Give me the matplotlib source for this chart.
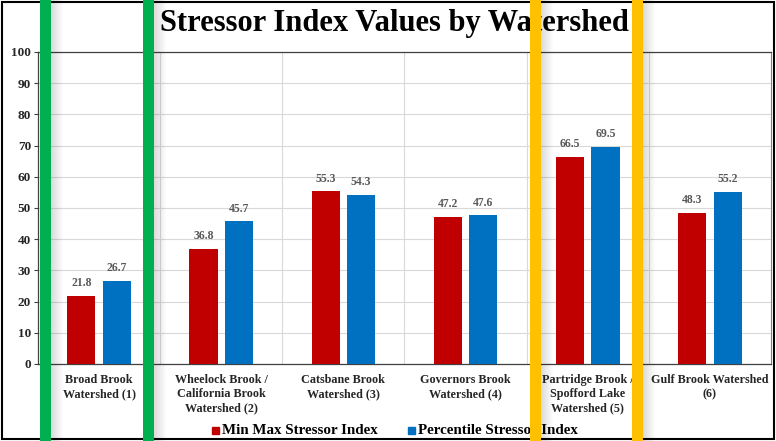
import matplotlib
matplotlib.use("Agg")
import matplotlib.pyplot as plt
from matplotlib.patches import Rectangle
import numpy as np

watersheds = [
    "Broad Brook\nWatershed (1)",
    "Wheelock Brook /\nCalifornia Brook\nWatershed (2)",
    "Catsbane Brook\nWatershed (3)",
    "Governors Brook\nWatershed (4)",
    "Partridge Brook /\nSpofford Lake\nWatershed (5)",
    "Gulf Brook Watershed\n(6)",
]
min_max = [21.8, 36.8, 55.3, 47.2, 66.5, 48.3]
percentile = [26.7, 45.7, 54.3, 47.6, 69.5, 55.2]
series_names = ["Min Max Stressor Index", "Percentile Stressor Index"]

RED = "#C00000"
BLUE = "#0070C0"
GREEN = "#00B050"
YELLOW = "#FFC000"
SERIF = ["Liberation Serif", "DejaVu Serif"]

W, H = 776, 441
fig = plt.figure(figsize=(W / 100, H / 100), dpi=100)


def fx(px):
    return px / W


def fy(py):
    return 1 - py / H


ax = fig.add_axes([fx(38), fy(364), fx(771 - 38), (364 - 52) / H])

x = np.arange(len(watersheds))
bw = 0.23
gap = 0.06
off = (bw + gap) / 2
ax.bar(x - off, min_max, bw, color=RED, zorder=3, label=series_names[0])
ax.bar(x + off, percentile, bw, color=BLUE, zorder=3, label=series_names[1])

for xs, vals in [(x - off, min_max), (x + off, percentile)]:
    for xi, v in zip(xs, vals):
        ax.text(xi, v + 2.2, f"{v:.1f}", ha="center", va="bottom",
                fontsize=8.5, fontweight="bold", color="#595959", family=SERIF)

ax.set_xlim(-0.5, len(watersheds) - 0.5)
ax.set_ylim(0, 100)
ax.set_yticks(range(0, 101, 10))
ax.set_yticklabels([str(v) for v in range(0, 101, 10)], fontsize=9.5,
                   fontweight="bold", family=SERIF, color="#262626")
ax.set_xticks(x)
ax.set_xticklabels(watersheds, fontsize=8.7, fontweight="bold", family=SERIF,
                   color="#262626", linespacing=1.25, va="top")
ax.tick_params(axis="x", length=0, pad=7)
ax.tick_params(axis="y", length=3, width=0.8, color="#404040", pad=2)

ax.grid(axis="y", color="#D9D9D9", lw=0.8, zorder=0)
for b in np.arange(0.5, len(watersheds) - 0.5, 1):
    ax.axvline(b, color="#D9D9D9", lw=0.8, zorder=0)

for s in ["left", "bottom", "top"]:
    ax.spines[s].set_color("#404040")
    ax.spines[s].set_linewidth(0.9)
ax.spines["right"].set_color("#808080")
ax.spines["right"].set_linewidth(0.8)

fig.text(fx(394.5), fy(23), "Stressor Index Values by Watershed", ha="center",
         va="center", fontsize=22, fontweight="bold", family=SERIF)

# legend drawn by hand at the bottom
for (px, name, col) in [(212, series_names[0], RED), (408, series_names[1], BLUE)]:
    fig.patches.append(Rectangle((fx(px), fy(434)), fx(7), 7 / H,
                                 transform=fig.transFigure, color=col))
    fig.text(fx(px + 10), fy(430), name, ha="left", va="center", fontsize=10.8,
             fontweight="bold", family=SERIF)

# outer frame
fig.patches.append(Rectangle((fx(1.5), fy(439)), fx(772), 437 / H,
                             transform=fig.transFigure, fill=False,
                             edgecolor="black", lw=1.5, zorder=5))

# highlight stripes with a soft shadow on their right
for left, col in [(40, GREEN), (143, GREEN), (530, YELLOW), (632, YELLOW)]:
    for k in range(12):
        a = 0.28 * (1 - k / 12)
        fig.patches.append(Rectangle((fx(left + 11 + k), 0), fx(1), 1,
                                     transform=fig.transFigure, color="black",
                                     alpha=a * 0.5, lw=0, zorder=9))
    fig.patches.append(Rectangle((fx(left), 0), fx(11), 1,
                                 transform=fig.transFigure, color=col,
                                 lw=0, zorder=10))

fig.savefig("out.png", dpi=100)
